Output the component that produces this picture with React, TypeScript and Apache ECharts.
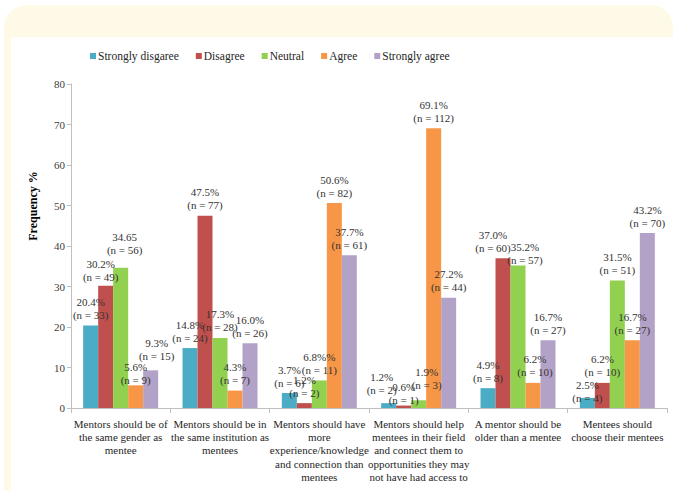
import React, { useEffect, useRef } from "react";
import * as echarts from "echarts";

const categories = [
  "Mentors should be of\nthe same gender as\nmentee",
  "Mentors should be in\nthe same institution as\nmentees",
  "Mentors should have\nmore\nexperience/knowledge\nand connection than\nmentees",
  "Mentors should help\nmentees in their field\nand connect them to\nopportunities they may\nnot have had access to",
  "A mentor should be\nolder than a mentee",
  "Mentees should\nchoose their mentees",
];

const seriesNames = ["Strongly disgaree", "Disagree", "Neutral", "Agree", "Strongly agree"];

const stronglyDisagree = [20.4, 14.8, 3.7, 1.2, 4.9, 2.5];
const disagree = [30.2, 47.5, 1.2, 0.6, 37.0, 6.2];
const neutral = [34.6, 17.3, 6.8, 1.9, 35.2, 31.5];
const agree = [5.6, 4.3, 50.6, 69.1, 6.2, 16.7];
const stronglyAgree = [9.3, 16.0, 37.7, 27.2, 16.7, 43.2];

const pctStronglyDisagree = ["20.4%", "14.8%", "3.7%", "1.2%", "4.9%", "2.5%"];
const pctDisagree = ["30.2%", "47.5%", "1.2%", "0.6%", "37.0%", "6.2%"];
const pctNeutral = ["34.65", "17.3%", "6.8%%", "1.9%", "35.2%", "31.5%"];
const pctAgree = ["5.6%", "4.3%", "50.6%", "69.1%", "6.2%", "16.7%"];
const pctStronglyAgree = ["9.3%", "16.0%", "37.7%", "27.2%", "16.7%", "43.2%"];

const nStronglyDisagree = [33, 24, 6, 2, 8, 4];
const nDisagree = [49, 77, 2, 1, 60, 10];
const nNeutral = [56, 28, 11, 3, 57, 51];
const nAgree = [9, 7, 82, 112, 10, 27];
const nStronglyAgree = [15, 26, 61, 44, 27, 70];

const yTicks = { min: 0, max: 80, interval: 10 };

const colors = ["#4BACC6", "#C0504D", "#92D050", "#F79646", "#B3A2C7"];

// label nudges [dx, dy] in px per series / category (style, mirrors the reference's hand-placed labels)
const labelNudges: Record<string, [number, number]> = {
  "1-0": [-5, 2],
  "2-0": [4, -7],
  "3-0": [0, 5],
  "4-0": [6, -4],
  "0-3": [-7, -3],
  "1-3": [0, 5],
  "2-3": [8, -5],
  "1-4": [-10, 0],
  "2-4": [7, 5],
  "3-4": [2, 0],
  "0-5": [0, 11],
};

const FONT = "Liberation Serif";

export default function App() {
  const ref = useRef<HTMLDivElement>(null);

  useEffect(() => {
    if (!ref.current) return;
    const chart = echarts.init(ref.current, undefined, { renderer: "svg" });
    const values = [stronglyDisagree, disagree, neutral, agree, stronglyAgree];
    const pcts = [pctStronglyDisagree, pctDisagree, pctNeutral, pctAgree, pctStronglyAgree];
    const ns = [nStronglyDisagree, nDisagree, nNeutral, nAgree, nStronglyAgree];

    chart.setOption({
      animation: false,
      color: colors,
      textStyle: { fontFamily: FONT },
      legend: {
        left: 90,
        top: 50,
        padding: 0,
        itemWidth: 6,
        itemHeight: 6,
        itemGap: 17,
        icon: "rect",
        textStyle: { fontFamily: FONT, fontSize: 11.5, color: "#262626", padding: [0, 0, 0, -3] },
        data: seriesNames,
      },
      grid: { left: 71, right: 6, top: 84, bottom: 83 },
      xAxis: {
        type: "category",
        data: categories,
        axisLine: { lineStyle: { color: "#BFBFBF" } },
        axisTick: { show: true, length: 5, lineStyle: { color: "#BFBFBF" } },
        axisLabel: {
          interval: 0,
          fontFamily: FONT,
          fontSize: 11,
          lineHeight: 13.3,
          color: "#262626",
          margin: 9,
        },
      },
      yAxis: {
        type: "value",
        min: yTicks.min,
        max: yTicks.max,
        interval: yTicks.interval,
        axisLine: { show: true, lineStyle: { color: "#BFBFBF" } },
        axisTick: { show: true, length: 4, lineStyle: { color: "#BFBFBF" } },
        splitLine: { show: false },
        axisLabel: { fontFamily: FONT, fontSize: 11, color: "#404040", margin: 6 },
      },
      graphic: [
        {
          type: "text",
          x: 33,
          y: 206,
          rotation: Math.PI / 2,
          style: {
            text: "Frequency %",
            fontFamily: FONT,
            fontSize: 12,
            fontWeight: "bold",
            fill: "#000",
            align: "center",
            verticalAlign: "middle",
          },
        },
      ],
      series: seriesNames.map((name, si) => ({
        name,
        type: "bar",
        barWidth: 15,
        barGap: "0%",
        data: values[si].map((v, i) => ({
          value: v,
          label: {
            formatter: `${pcts[si][i]}\n(n = ${ns[si][i]})`,
            offset: labelNudges[`${si}-${i}`] || [0, 0],
          },
        })),
        label: {
          show: true,
          position: "top",
          distance: 4,
          fontFamily: FONT,
          fontSize: 11,
          lineHeight: 13,
          color: "#333",
        },
      })),
    });
    return () => chart.dispose();
  }, []);

  return (
    <div style={{ position: "fixed", left: 0, top: 0, width: 673, height: 491, background: "#fff", overflow: "hidden" }}>
      <div
        style={{
          position: "absolute",
          left: 4,
          top: 5,
          width: 669,
          height: 520,
          background: "#FFFAE8",
          borderTopLeftRadius: 22,
          borderTopRightRadius: 22,
        }}
      />
      <div style={{ position: "absolute", left: 11, top: 37, width: 662, height: 454, background: "#fff" }} />
      <div ref={ref} style={{ position: "absolute", left: 0, top: 0, width: 673, height: 491 }} />
    </div>
  );
}
